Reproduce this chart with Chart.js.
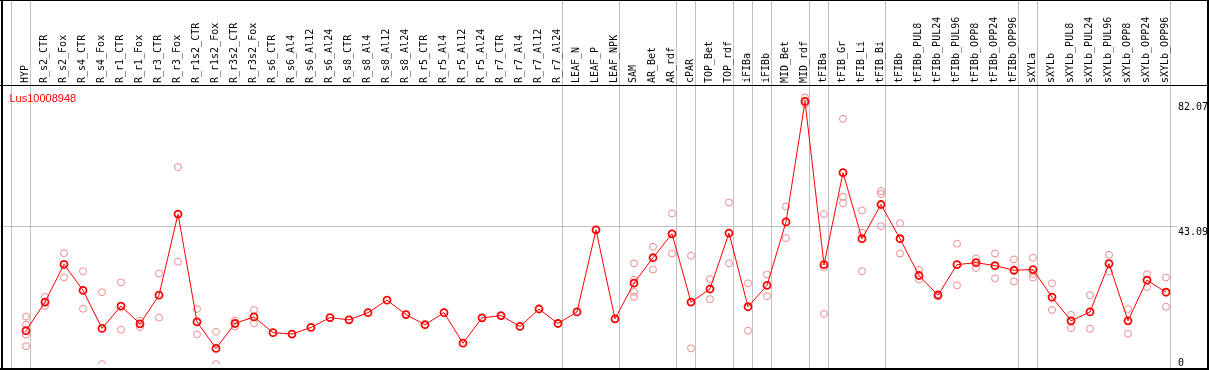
<!DOCTYPE html>
<html><head><meta charset="utf-8">
<script src="https://cdn.jsdelivr.net/npm/chart.js@4/dist/chart.umd.min.js"></script>
<style>html,body{margin:0;padding:0;background:#fff;overflow:hidden}canvas{display:block}</style>
</head><body>
<canvas id="c" width="1209" height="370" style="width:1209px;height:370px"></canvas>
<script>
const geneName = 'Lus10008948';
const categories = ['HYP','R_s2_CTR','R_s2_Fox','R_s4_CTR','R_s4_Fox','R_r1_CTR','R_r1_Fox','R_r3_CTR','R_r3_Fox','R_r1s2_CTR','R_r1s2_Fox','R_r3s2_CTR','R_r3s2_Fox','R_s6_CTR','R_s6_Al4','R_s6_Al12','R_s6_Al24','R_s8_CTR','R_s8_Al4','R_s8_Al12','R_s8_Al24','R_r5_CTR','R_r5_Al4','R_r5_Al12','R_r5_Al24','R_r7_CTR','R_r7_Al4','R_r7_Al12','R_r7_Al24','LEAF_N','LEAF_P','LEAF_NPK','SAM','AR_Bet','AR_rdf','cPAR','TOP_Bet','TOP_rdf','iFIBa','iFIBb','MID_Bet','MID_rdf','tFIBa','tFIB_Gr','tFIB_Li','tFIB_Bi','tFIBb','tFIBb_PUL8','tFIBb_PUL24','tFIBb_PUL96','tFIBb_OPP8','tFIBb_OPP24','tFIBb_OPP96','sXYLa','sXYLb','sXYLb_PUL8','sXYLb_PUL24','sXYLb_PUL96','sXYLb_OPP8','sXYLb_OPP24','sXYLb_OPP96'];
const meanValues = [10.47,19.40,31.19,23.09,11.18,18.17,12.62,21.55,46.89,13.24,4.93,12.72,14.78,9.85,9.42,11.48,14.56,13.85,16.10,20.01,15.49,12.32,16.10,6.56,14.47,15.18,11.79,17.24,12.72,16.32,41.96,14.16,25.34,33.25,40.73,19.40,23.49,40.95,17.95,24.63,44.43,82.07,31.10,59.82,39.19,49.88,39.19,27.71,21.55,31.10,31.71,30.79,29.34,29.56,20.94,13.55,16.32,31.40,13.55,26.26,22.48];
const rep1 = [14.87,21.03,34.67,29.03,22.48,25.55,13.64,28.33,61.58,17.24,10.16,13.64,16.93,null,null,null,null,null,null,null,null,null,null,null,null,null,null,null,null,null,null,null,31.50,36.67,47.11,33.87,26.57,50.49,25.25,28.02,49.26,83.31,46.89,76.66,48.03,54.06,44.03,29.43,21.9,37.65,33.04,34.57,32.73,33.25,25.25,15.39,21.55,34.17,17.24,28.11,27.09];
const rep2 = [12.32,18.17,27.09,17.33,0,10.78,11.58,14.56,32.02,9.33,0,11.79,12.81,null,null,null,null,null,null,null,null,null,null,null,null,null,null,null,null,null,null,null,26.35,29.56,34.57,4.93,20.32,31.50,10.47,21.24,39.41,81.28,30.26,52.34,41.04,53.14,34.57,26.48,21.24,24.63,30.05,26.79,25.86,28.20,16.93,11.27,11.08,28.94,9.54,24.11,17.95];
const rep3 = [9.24,null,null,null,null,null,null,null,null,null,null,null,null,null,null,null,null,null,null,null,null,null,null,null,null,null,null,null,null,null,null,null,22.57,null,null,null,null,null,null,null,null,null,15.70,50.28,29.03,43.10,null,null,null,null,null,null,null,27.09,null,null,null,null,null,null,null];
const rep4 = [5.63,null,null,null,null,null,null,null,null,null,null,null,null,null,null,null,null,null,null,null,null,null,null,null,null,null,null,null,null,null,null,null,21.03,null,null,null,null,null,null,null,null,null,null,null,null,null,null,null,null,null,null,null,null,null,null,null,null,null,null,null,null];
const yTickValues = [0, 43.09, 82.07];
const yGridValues = [43.09];
const groupEnds = [-1,0,28,31,34,35,37,38,39,41,42,45,52,53,60];

const monoFont = '"DejaVu Sans Mono", "Liberation Mono", monospace';

const framePlugin = {
  id: 'frame',
  beforeDraw(chart) {
    const ctx = chart.ctx, xs = chart.scales.x, ys = chart.scales.y;
    const W = chart.width, H = chart.height;
    ctx.save();
    ctx.fillStyle = '#fff';
    ctx.fillRect(0, 0, W, H);
    ctx.fillStyle = '#c0c0c0';
    groupEnds.forEach(i => {
      const px = Math.floor(xs.getPixelForValue(i + 0.25));
      ctx.fillRect(px, 0, 1, H);
    });
    yGridValues.forEach(v => {
      const py = Math.floor(ys.getPixelForValue(v));
      ctx.fillRect(0, py, chart.chartArea.right + 2, 1);
    });
    ctx.fillStyle = '#000';
    ctx.fillRect(0, 0, W, 1);
    ctx.fillRect(0, Math.floor(chart.chartArea.top), W, 1);
    ctx.fillRect(1, 0, 2, H);
    ctx.fillRect(W - 2, 0, 2, H);
    ctx.fillRect(0, H - 2, W, 2);
    ctx.restore();
  },
  afterDraw(chart) {
    const ctx = chart.ctx, ys = chart.scales.y;
    ctx.save();
    ctx.fillStyle = '#000';
    ctx.font = '10px ' + monoFont;
    ctx.textBaseline = 'alphabetic';
    ctx.textAlign = 'left';
    yTickValues.forEach(v => {
      const py = Math.min(ys.getPixelForValue(v) + 9, chart.height - 4);
      ctx.fillText(String(v), chart.chartArea.right + 2.5, py);
    });
    ctx.fillStyle = '#ff0000';
    ctx.font = '11px "Liberation Sans", Arial, sans-serif';
    ctx.fillText(geneName, 9.5, chart.chartArea.top + 17);
    ctx.restore();
  }
};

const repStyle = (data) => ({
  data, showLine: false, borderColor: 'rgba(238,140,140,1)', backgroundColor: 'rgba(0,0,0,0)',
  pointStyle: 'circle', pointRadius: 3.5, pointBorderWidth: 1, pointBorderColor: 'rgba(238,140,140,1)',
  pointBackgroundColor: 'rgba(0,0,0,0)'
});

new Chart(document.getElementById('c'), {
  type: 'line',
  data: {
    labels: categories,
    datasets: [
      { data: meanValues, borderColor: '#ff0000', borderWidth: 1, backgroundColor: 'rgba(0,0,0,0)',
        pointStyle: 'circle', pointRadius: 3.5, pointBorderWidth: 1.8, pointBorderColor: '#ff0000',
        pointBackgroundColor: 'rgba(0,0,0,0)', tension: 0 },
      repStyle(rep1), repStyle(rep2), repStyle(rep3), repStyle(rep4)
    ]
  },
  options: {
    responsive: false, animation: false, devicePixelRatio: 1,
    layout: { padding: { left: 16.5, right: 0, top: 0, bottom: 1.7 } },
    plugins: { legend: { display: false }, tooltip: { enabled: false } },
    scales: {
      x: {
        type: 'category', position: 'top', offset: true,
        grid: { display: false, drawTicks: false }, border: { display: false },
        ticks: { autoSkip: false, minRotation: 90, maxRotation: 90, padding: 2, labelOffset: 9,
                 color: '#000', font: { family: monoFont, size: 10, lineHeight: 1 } },
        afterFit: (s) => { s.height = 85; }
      },
      y: {
        position: 'right', min: 0, max: 87.21,
        grid: { display: false, drawTicks: false }, border: { display: false },
        ticks: { display: false },
        afterFit: (s) => { s.width = 33.5; }
      }
    }
  },
  plugins: [framePlugin]
});
</script>
</body></html>
